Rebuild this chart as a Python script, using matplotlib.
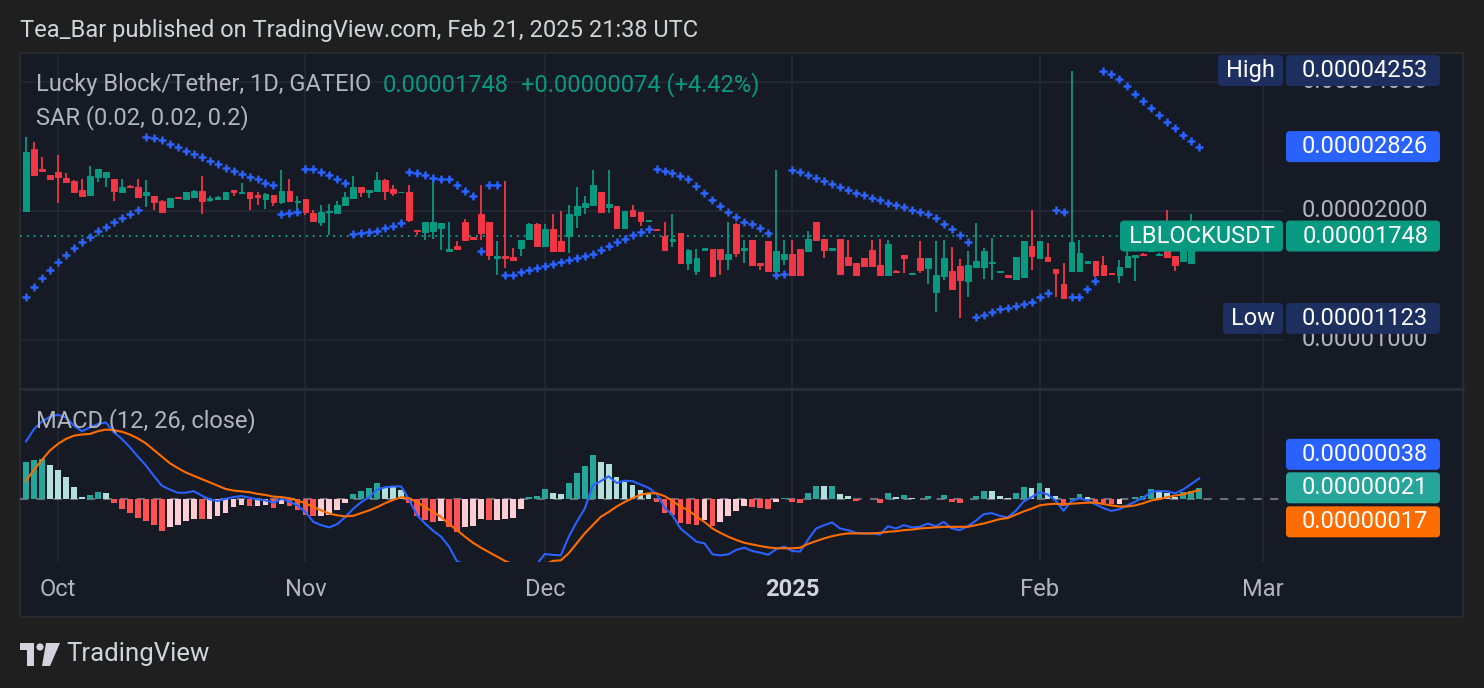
import numpy as np
import pandas as pd
import matplotlib
matplotlib.use('Agg')
import matplotlib.pyplot as plt
import matplotlib.dates as mdates
from matplotlib.patches import FancyBboxPatch, Rectangle, Polygon, Circle
from matplotlib.ticker import NullLocator

plt.rcParams['font.family'] = ['Roboto', 'DejaVu Sans']

# ---- data (prices in units of 1e-5 USDT, MACD in units of 1e-6) ----
dates = pd.date_range('2024-09-27', '2025-02-21', freq='D')

opens = [2.00, 2.79, 2.51, 2.42, 2.46, 2.39, 2.35, 2.24, 2.18, 2.40,
         2.40, 2.37, 2.22, 2.29, 2.28, 2.18, 2.17, 2.11, 2.04, 2.16,
         2.13, 2.16, 2.23, 2.12, 2.13, 2.13, 2.24, 2.20, 2.22, 2.18,
         2.13, 2.18, 2.10, 2.23, 2.10, 2.13, 1.975, 1.89, 1.985, 1.975,
         2.06, 2.14, 2.28, 2.22, 2.23, 2.36, 2.25, 2.21, 2.22, 1.81,
         1.79, 1.80, 1.83, 1.615, 1.66, 1.88, 1.74, 1.97, 1.89, 1.556,
         1.57, 1.56, 1.64, 1.72, 1.865, 1.66, 1.82, 1.70, 1.75, 1.96,
         2.04, 2.07, 2.22, 2.04, 2.05, 1.83, 2.01, 1.985, 1.90, 1.82,
         1.745, 1.705, 1.78, 1.51, 1.45, 1.625, 1.63, 1.63, 1.545, 1.865,
         1.625, 1.71, 1.515, 1.70, 1.45, 1.545, 1.585, 1.63, 1.61, 1.88,
         1.72, 1.62, 1.725, 1.56, 1.515, 1.55, 1.62, 1.50, 1.42, 1.45,
         1.58, 1.425, 1.55, 1.47, 1.296, 1.41, 1.45, 1.49, 1.37, 1.48,
         1.48, 1.51, 1.44, 1.42, 1.39, 1.405, 1.66, 1.556, 1.565, 1.465,
         1.35, 1.45, 1.45, 1.515, 1.53, 1.50, 1.435, 1.42, 1.48, 1.565,
         1.59, 1.61, 1.58, 1.62, 1.57, 1.53, 1.51, 1.66]
highs = [2.97, 2.90, 2.67, 2.42, 2.70, 2.45, 2.36, 2.37, 2.55, 2.51,
         2.47, 2.38, 2.37, 2.30, 2.38, 2.36, 2.17, 2.12, 2.15, 2.16,
         2.21, 2.24, 2.41, 2.17, 2.17, 2.22, 2.24, 2.33, 2.22, 2.22,
         2.20, 2.18, 2.49, 2.37, 2.17, 2.13, 2.01, 2.07, 2.08, 2.11,
         2.21, 2.41, 2.28, 2.24, 2.47, 2.38, 2.30, 2.22, 2.30, 1.81,
         1.89, 2.38, 1.87, 1.88, 1.70, 1.92, 1.74, 2.30, 1.89, 1.70,
         2.35, 1.64, 1.71, 1.87, 1.87, 1.865, 1.97, 2.00, 2.06, 2.28,
         2.17, 2.49, 2.22, 2.49, 2.05, 2.00, 2.06, 1.99, 1.91, 1.82,
         1.88, 1.97, 1.78, 1.63, 1.63, 1.64, 1.63, 1.63, 1.89, 1.87,
         1.71, 1.71, 1.515, 1.70, 2.49, 1.71, 1.71, 1.63, 1.795, 1.88,
         1.725, 1.64, 1.725, 1.71, 1.515, 1.55, 1.71, 1.72, 1.71, 1.455,
         1.58, 1.435, 1.70, 1.55, 1.70, 1.71, 1.65, 1.545, 1.61, 1.87,
         1.64, 1.73, 1.45, 1.42, 1.56, 1.70, 2.01, 1.70, 1.68, 1.465,
         1.515, 4.253, 1.71, 1.53, 1.53, 1.57, 1.435, 1.54, 1.61, 1.58,
         1.60, 1.68, 1.60, 2.01, 1.57, 1.65, 1.97, 1.78]
lows = [2.00, 2.42, 2.46, 2.38, 2.09, 2.33, 2.21, 2.16, 2.18, 2.34,
        2.28, 2.11, 2.22, 2.26, 2.16, 2.04, 2.01, 1.99, 2.04, 2.14,
        2.12, 2.16, 1.97, 2.10, 2.12, 2.13, 2.17, 2.19, 2.01, 2.06,
        2.02, 2.05, 2.08, 2.11, 1.99, 1.96, 1.90, 1.84, 1.76, 1.97,
        2.06, 2.14, 2.16, 2.15, 2.23, 2.12, 2.17, 2.21, 1.88, 1.76,
        1.71, 1.725, 1.62, 1.615, 1.63, 1.71, 1.72, 1.71, 1.54, 1.42,
        1.475, 1.535, 1.57, 1.72, 1.645, 1.66, 1.61, 1.61, 1.60, 1.83,
        1.97, 2.06, 1.99, 1.975, 1.83, 1.83, 1.95, 1.845, 1.90, 1.81,
        1.62, 1.65, 1.51, 1.457, 1.42, 1.625, 1.41, 1.42, 1.457, 1.565,
        1.51, 1.50, 1.457, 1.45, 1.42, 1.50, 1.42, 1.42, 1.61, 1.71,
        1.555, 1.62, 1.425, 1.50, 1.42, 1.49, 1.49, 1.42, 1.42, 1.44,
        1.43, 1.425, 1.43, 1.35, 1.164, 1.38, 1.315, 1.123, 1.26, 1.48,
        1.39, 1.38, 1.44, 1.405, 1.38, 1.40, 1.46, 1.55, 1.53, 1.26,
        1.255, 1.45, 1.45, 1.515, 1.40, 1.42, 1.425, 1.36, 1.48, 1.37,
        1.575, 1.605, 1.58, 1.56, 1.445, 1.52, 1.505, 1.64]
closes = [2.74, 2.42, 2.48, 2.38, 2.40, 2.34, 2.22, 2.17, 2.41, 2.50,
          2.46, 2.23, 2.28, 2.27, 2.16, 2.21, 2.10, 1.99, 2.15, 2.14,
          2.21, 2.23, 2.11, 2.15, 2.16, 2.22, 2.22, 2.22, 2.14, 2.16,
          2.19, 2.10, 2.23, 2.11, 2.11, 1.985, 1.90, 1.985, 2.00, 2.07,
          2.16, 2.28, 2.22, 2.24, 2.36, 2.23, 2.20, 2.22, 1.91, 1.795,
          1.88, 1.88, 1.87, 1.63, 1.63, 1.71, 1.72, 1.78, 1.58, 1.57,
          1.555, 1.54, 1.71, 1.865, 1.66, 1.82, 1.61, 1.61, 1.97, 2.05,
          2.09, 2.30, 1.99, 2.08, 1.83, 2.00, 1.95, 1.895, 1.91, 1.81,
          1.62, 1.72, 1.51, 1.62, 1.55, 1.64, 1.41, 1.545, 1.585, 1.60,
          1.64, 1.50, 1.50, 1.45, 1.61, 1.585, 1.42, 1.42, 1.72, 1.71,
          1.62, 1.64, 1.425, 1.50, 1.42, 1.49, 1.49, 1.42, 1.675, 1.44,
          1.556, 1.435, 1.457, 1.55, 1.42, 1.55, 1.315, 1.38, 1.50, 1.53,
          1.61, 1.52, 1.45, 1.405, 1.56, 1.70, 1.57, 1.70, 1.53, 1.43,
          1.255, 1.69, 1.60, 1.53, 1.42, 1.42, 1.425, 1.48, 1.57, 1.575,
          1.58, 1.65, 1.59, 1.565, 1.50, 1.63, 1.66, 1.748]
sar = [1.260, 1.329, 1.398, 1.457, 1.523, 1.579, 1.637, 1.693, 1.742, 1.796,
       1.838, 1.885, 1.926, 1.968, 2.010, 2.976, 2.960, 2.929, 2.866, 2.820,
       2.760, 2.716, 2.673, 2.616, 2.574, 2.520, 2.479, 2.440, 2.400, 2.371,
       2.328, 2.300, 1.968, 1.978, 1.989, 2.502, 2.502, 2.470, 2.426, 2.381,
       2.328, 1.765, 1.774, 1.783, 1.799, 1.822, 1.848, 1.878, 2.470, 2.453,
       2.430, 2.388, 2.381, 2.381, 2.303, 2.230, 2.171, 1.616, 2.303, 2.303,
       1.418, 1.418, 1.439, 1.459, 1.475, 1.491, 1.507, 1.523, 1.539, 1.556,
       1.573, 1.590, 1.624, 1.660, 1.696, 1.723, 1.758, 1.789, 1.818, 2.502,
       2.485, 2.457, 2.417, 2.371, 2.291, 2.206, 2.125, 2.058, 1.992, 1.939,
       1.888, 1.865, 1.825, 1.777, 1.418, 1.428, 2.497, 2.470, 2.426, 2.388,
       2.353, 2.316, 2.279, 2.242, 2.206, 2.179, 2.148, 2.122, 2.091, 2.069,
       2.047, 2.010, 1.992, 1.971, 1.923, 1.865, 1.815, 1.758, 1.696, 1.133,
       1.144, 1.164, 1.179, 1.190, 1.200, 1.213, 1.228, 1.262, 1.289, 2.010,
       1.989, 1.262, 1.262, 1.315, 1.371, 4.243, 4.175, 4.07, 3.92, 3.75,
       3.61, 3.47, 3.355, 3.226, 3.124, 3.008, 2.913, 2.826]
macd = [1.055, 1.28, 1.42, 1.50, 1.54, 1.49, 1.34, 1.24, 1.31, 1.37,
        1.40, 1.22, 1.10, 0.95, 0.78, 0.62, 0.43, 0.25, 0.18, 0.12,
        0.12, 0.15, 0.07, 0.0, -0.03, 0.01, 0.04, 0.06, 0.03, 0.0,
        -0.02, -0.06, 0.01, -0.04, -0.11, -0.23, -0.41, -0.47, -0.51, -0.45,
        -0.32, -0.17, -0.05, 0.04, 0.18, 0.22, 0.235, 0.235, -0.01, -0.29,
        -0.44, -0.57, -0.68, -0.86, -1.13, -1.18, -1.27, -1.23, -1.34, -1.42,
        -1.48, -1.52, -1.40, -1.20, -1.18, -0.995, -1.01, -1.02, -0.68, -0.41,
        -0.17, 0.25, 0.33, 0.42, 0.30, 0.34, 0.33, 0.27, 0.21, 0.10,
        -0.15, -0.29, -0.53, -0.65, -0.77, -0.80, -1.0, -1.02, -1.0, -0.92,
        -0.88, -0.94, -0.97, -1.01, -0.905, -0.86, -0.94, -0.95, -0.73, -0.53,
        -0.47, -0.42, -0.53, -0.56, -0.61, -0.62, -0.62, -0.64, -0.49, -0.53,
        -0.47, -0.51, -0.50, -0.44, -0.49, -0.41, -0.53, -0.56, -0.49, -0.39,
        -0.27, -0.25, -0.30, -0.33, -0.21, -0.04, 0.04, 0.13, 0.09, -0.02,
        -0.21, -0.03, 0.02, -0.02, -0.09, -0.16, -0.21, -0.18, -0.11, -0.04,
        0.03, 0.14, 0.15, 0.145, 0.11, 0.18, 0.28, 0.38]
signal = [0.34, 0.54, 0.72, 0.89, 1.01, 1.10, 1.16, 1.18, 1.19, 1.24,
          1.27, 1.26, 1.23, 1.18, 1.11, 1.02, 0.90, 0.78, 0.66, 0.57,
          0.49, 0.43, 0.37, 0.31, 0.25, 0.19, 0.16, 0.145, 0.13, 0.10,
          0.08, 0.05, 0.04, 0.02, -0.02, -0.07, -0.14, -0.20, -0.26, -0.29,
          -0.31, -0.30, -0.25, -0.20, -0.14, -0.07, -0.01, 0.04, 0.02, -0.05,
          -0.14, -0.23, -0.32, -0.45, -0.56, -0.68, -0.79, -0.88, -0.96, -1.04,
          -1.12, -1.18, -1.22, -1.24, -1.24, -1.185, -1.12, -1.11, -0.98, -0.80,
          -0.62, -0.47, -0.32, -0.23, -0.13, -0.05, 0.02, 0.085, 0.11, 0.11,
          0.06, -0.03, -0.13, -0.20, -0.31, -0.41, -0.53, -0.61, -0.68, -0.74,
          -0.79, -0.82, -0.85, -0.875, -0.89, -0.89, -0.89, -0.88, -0.81, -0.76,
          -0.71, -0.67, -0.64, -0.62, -0.62, -0.62, -0.62, -0.61, -0.59, -0.58,
          -0.56, -0.55, -0.53, -0.52, -0.51, -0.50, -0.50, -0.50, -0.50, -0.47,
          -0.44, -0.40, -0.36, -0.34, -0.28, -0.22, -0.17, -0.11, -0.09, -0.08,
          -0.09, -0.08, -0.07, -0.06, -0.06, -0.085, -0.11, -0.13, -0.13, -0.11,
          -0.07, -0.02, 0.005, 0.04, 0.07, 0.09, 0.13, 0.17]
hist = [0.68, 0.71, 0.73, 0.62, 0.53, 0.40, 0.22, 0.05, 0.08, 0.13,
        0.11, -0.06, -0.18, -0.24, -0.34, -0.39, -0.46, -0.57, -0.51, -0.46,
        -0.40, -0.35, -0.36, -0.35, -0.30, -0.24, -0.14, -0.10, -0.12, -0.12,
        -0.10, -0.16, -0.08, -0.12, -0.20, -0.28, -0.31, -0.31, -0.28, -0.20,
        -0.07, 0.10, 0.16, 0.20, 0.30, 0.22, 0.22, 0.17, -0.07, -0.31,
        -0.38, -0.42, -0.40, -0.50, -0.60, -0.50, -0.48, -0.35, -0.38, -0.38,
        -0.36, -0.34, -0.18, 0.036, 0.06, 0.19, 0.11, 0.10, 0.29, 0.48,
        0.60, 0.80, 0.675, 0.64, 0.41, 0.32, 0.26, 0.17, 0.10, -0.04,
        -0.24, -0.28, -0.43, -0.45, -0.46, -0.37, -0.48, -0.42, -0.31, -0.22,
        -0.13, -0.145, -0.15, -0.175, -0.05, 0.02, -0.05, -0.07, 0.12, 0.24,
        0.24, 0.245, 0.10, 0.06, -0.025, 0.005, 0.005, -0.06, 0.12, 0.05,
        0.08, 0.03, 0.01, 0.06, 0.01, 0.08, -0.05, -0.07, 0.005, 0.06,
        0.16, 0.155, 0.07, 0.025, 0.11, 0.23, 0.21, 0.29, 0.20, 0.07,
        -0.12, 0.03, 0.09, 0.05, -0.06, -0.065, -0.09, -0.085, 0.01, 0.05,
        0.07, 0.18, 0.15, 0.12, 0.05, 0.13, 0.16, 0.21]

month_ticks = ['2024-10-01', '2024-11-01', '2024-12-01', '2025-01-01', '2025-02-01', '2025-03-01']
month_labels = ['Oct', 'Nov', 'Dec', '2025', 'Feb', 'Mar']
price_ticks = [1e-5, 2e-5, 4e-5]

# ---- colours ----
BG = '#1f1f1f'
PANEL = '#161a25'
GRID = '#242833'
UP, DOWN = '#089981', '#f23645'
TXT = '#b2b5be'
BLUE, ORANGE = '#2962ff', '#ff6d00'

o = np.array(opens) * 1e-5
h = np.array(highs) * 1e-5
l = np.array(lows) * 1e-5
c = np.array(closes) * 1e-5
s = np.array(sar) * 1e-5
m = np.array(macd) * 1e-6
sg = np.array(signal) * 1e-6
hs = np.array(hist) * 1e-6
x = mdates.date2num(dates)

W, H = 1484, 688
fig = plt.figure(figsize=(W / 100, H / 100), dpi=100, facecolor=BG)


def rect(x0, y0, x1, y1):
    return [x0 / W, 1 - y1 / H, (x1 - x0) / W, (y1 - y0) / H]


bg = fig.add_axes([0, 0, 1, 1], zorder=0)
bg.set_xlim(0, W)
bg.set_ylim(H, 0)
bg.axis('off')
bg.add_patch(Rectangle((20, 53), 1443, 564, facecolor=PANEL, edgecolor='#2b2d33', lw=1.2))
bg.plot([20, 1463], [388.5, 388.5], color='#2a2e39', lw=2)

ax = fig.add_axes(rect(20, 53, 1283, 388), zorder=2)
ax2 = fig.add_axes(rect(20, 390, 1283, 562), zorder=2)

x0 = mdates.date2num(pd.Timestamp('2024-10-01'))
for a in (ax, ax2):
    a.set_facecolor('none')
    a.set_xlim(x0 - 4.76, x0 + 153.5)
    for sp in a.spines.values():
        sp.set_visible(False)
    a.tick_params(left=False, bottom=False, labelleft=False, labelbottom=False)
    for t in month_ticks:
        a.axvline(mdates.date2num(pd.Timestamp(t)), color=GRID, lw=1.3, zorder=0)

# price pane
ax.set_yscale('log')
ax.set_ylim(0.7727e-5, 4.673e-5)
ax.yaxis.set_minor_locator(NullLocator())
ax.set_yticks([])
for p in price_ticks:
    ax.axhline(p, color=GRID, lw=1.3, zorder=0)
ax.axhline(c[-1], color=UP, lw=1.4, ls=(0, (1, 2.5)), zorder=1)

col = np.where(c >= o, UP, DOWN)
ax.vlines(x, l, h, colors=col, lw=1.3, zorder=3)
ax.bar(x, np.abs(c - o), bottom=np.minimum(o, c), width=0.72, color=col,
       edgecolor=col, lw=0.7, zorder=4)
ax.plot(x, s, ls='none', marker='+', ms=5.2, mew=1.8, color=BLUE, zorder=5)

# MACD pane
ax2.set_ylim(-1.14e-6, 1.99e-6)
ax2.set_yticks([])
ax2.axhline(0, color='#6a6d78', lw=1.5, ls=(0, (4, 4)), zorder=1)
hcol = []
for i, v in enumerate(hs):
    prev = hs[i - 1] if i > 0 else -1
    if v >= 0:
        hcol.append('#26a69a' if v > prev else '#b2dfdb')
    else:
        hcol.append('#ff5252' if v < prev else '#ffcdd2')
ax2.bar(x, hs, width=0.72, color=hcol, zorder=2)
ax2.plot(x, m, color=BLUE, lw=1.5, zorder=3)
ax2.plot(x, sg, color=ORANGE, lw=1.5, zorder=3)

# ---- overlay texts and labels (pixel coords) ----
ov = fig.add_axes([0, 0, 1, 1], zorder=10)
ov.set_xlim(0, W)
ov.set_ylim(H, 0)
ov.axis('off')
ov.patch.set_alpha(0)


def ypx(a, v):
    return H - a.transData.transform((x0, v))[1]


def xpx(d):
    return ax.transData.transform((mdates.date2num(pd.Timestamp(d)), 1e-5))[0]


FS = 17
ov.text(20, 31, 'Tea_Bar published on TradingView.com, Feb 21, 2025 21:38 UTC',
        color='#d1d4dc', fontsize=FS, va='center')
ov.text(36, 85, 'Lucky Block/Tether, 1D, GATEIO', color=TXT, fontsize=FS, va='center')
ov.text(383, 85, '0.00001748', color=UP, fontsize=FS, va='center')
ov.text(521, 85, '+0.00000074 (+4.42%)', color=UP, fontsize=FS, va='center')
ov.text(36, 118, 'SAR (0.02, 0.02, 0.2)', color=TXT, fontsize=FS, va='center')
ov.text(36, 421, 'MACD (12, 26, close)', color=TXT, fontsize=FS, va='center')

for d, lab in zip(month_ticks, month_labels):
    ov.text(xpx(d), 590, lab, color=TXT if lab != '2025' else '#d1d4dc', fontsize=FS,
            ha='center', va='center', fontweight='bold' if lab == '2025' else 'normal')

for p in price_ticks:
    ov.text(1428, ypx(ax, p), '%.8f' % p, color=TXT, fontsize=FS, ha='right',
            va='center', zorder=0.5)


def box(xa, xb, yc, fc, hgt=31):
    ov.add_patch(FancyBboxPatch((xa, yc - hgt / 2), xb - xa, hgt,
                                boxstyle='round,pad=0,rounding_size=4',
                                fc=fc, ec='none', zorder=1))


def label(xa, xb, yc, fc, txt, center=False):
    box(xa, xb, yc, fc)
    if center:
        ov.text((xa + xb) / 2, yc, txt, color='white', fontsize=FS, ha='center',
                va='center', zorder=3)
    else:
        ov.text(xb - 12, yc, txt, color='white', fontsize=FS, ha='right',
                va='center', zorder=3)


NAVY = '#1c2f5e'
yh = ypx(ax, h.max())
label(1218, 1283, yh, NAVY, 'High', center=True)
label(1286, 1440, yh, NAVY, '%.8f' % h.max())
label(1286, 1440, ypx(ax, s[-1]), BLUE, '%.8f' % s[-1])
yc_ = ypx(ax, c[-1])
label(1120, 1283, yc_, UP, 'LBLOCKUSDT', center=True)
label(1286, 1440, yc_, UP, '%.8f' % c[-1])
yl = ypx(ax, l.min())
label(1223, 1283, yl, NAVY, 'Low', center=True)
label(1286, 1440, yl, NAVY, '%.8f' % l.min())

yhist = ypx(ax2, hs[-1])
label(1286, 1440, yhist - 33.5, BLUE, '%.8f' % m[-1])
label(1286, 1440, yhist, '#26a69a', '%.8f' % hs[-1])
label(1286, 1440, yhist + 34, ORANGE, '%.8f' % sg[-1])

# footer logo + wordmark
LOGO = '#d1d4dc'
ov.add_patch(Polygon([(20, 643), (34, 643), (34, 666), (27, 666), (27, 650), (20, 650)],
                     closed=True, fc=LOGO, ec='none'))
ov.add_patch(Circle((40, 647), 3.6, fc=LOGO, ec='none'))
ov.add_patch(Polygon([(46, 643), (60, 643), (50, 666), (42, 666)], closed=True, fc=LOGO, ec='none'))
ov.text(66, 654, 'TradingView', color=LOGO, fontsize=18.5, va='center')

fig.savefig('out.png', dpi=100, facecolor=BG)
